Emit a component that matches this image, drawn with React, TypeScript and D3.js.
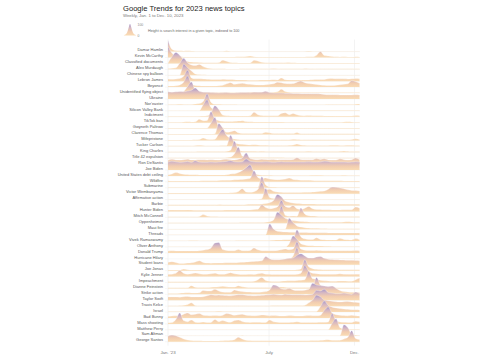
import React from 'react';
import * as d3 from 'd3';

const weekStarts: Date[] = d3.timeWeek.range(new Date(2023, 0, 1), new Date(2023, 11, 11));

const topicNames = [
  'Damar Hamlin', 'Kevin McCarthy', 'Classified documents', 'Alex Murdaugh', 'Chinese spy balloon',
  'Lebron James', 'Beyoncé', 'Unidentified flying object', 'Ukraine', "Nor'easter",
  'Silicon Valley Bank', 'Indictment', 'TikTok ban', 'Gwyneth Paltrow', 'Clarence Thomas',
  'Mifepristone', 'Tucker Carlson', 'King Charles', 'Title 42 expulsion', 'Ron DeSantis',
  'Joe Biden', 'United States debt ceiling', 'Wildfire', 'Submarine', 'Victor Wembanyama',
  'Affirmative action', 'Barbie', 'Hunter Biden', 'Mitch McConnell', 'Oppenheimer',
  'Maui fire', 'Threads', 'Vivek Ramaswamy', 'Oliver Anthony', 'Donald Trump',
  'Hurricane Hilary', 'Student loans', 'Joe Jonas', 'Kylie Jenner', 'Impeachment',
  'Dianne Feinstein', 'Strike action', 'Taylor Swift', 'Travis Kelce', 'Israel',
  'Bad Bunny', 'Mass shooting', 'Matthew Perry', 'Sam Altman', 'George Santos',
];

const damarHamlin = [100,22,10,7,6,7,5,4,4,4, 3,3,3,4,4,8,4,3,3,3, 3,3,3,3,3,3,3,3,3,3, 3,3,3,3,3,4,6,4,3,3, 3,3,3,3,3,3,3,3,3,3];
const kevinMcCarthy = [100,40,10,6,5,5,4,4,4,4, 4,4,4,4,4,4,5,5,6,7, 10,14,8,5,4,4,4,4,4,4, 4,4,4,4,4,5,6,6,20,55, 18,14,10,6,5,6,4,4,8,5];
const classifiedDocuments = [5,60,100,75,35,18,12,10,8,7, 6,6,6,8,30,20,8,6,5,5, 5,5,30,22,10,7,6,6,6,6, 7,9,6,5,5,5,5,5,4,4, 4,4,4,4,4,4,4,4,4,4];
const alexMurdaugh = [8,10,14,55,100,60,40,35,45,25, 12,8,6,5,5,4,4,4,4,5, 6,6,6,5,5,5,6,8,6,5, 5,5,5,5,5,8,6,6,5,5, 5,5,5,5,5,5,5,5,6,5];
const chineseSpyBalloon = [2,2,2,2,100,70,40,12,6,4, 3,2,2,2,2,2,2,2,2,2, 2,2,2,2,2,2,2,2,2,2, 2,2,2,2,2,2,2,2,2,2, 2,2,2,2,2,2,2,2,2,2];
const lebronJames = [20,18,20,25,45,100,30,22,22,20, 18,16,15,15,18,16,15,14,12,12, 10,8,8,9,10,10,12,14,12,30, 14,12,10,10,10,10,12,14,16,15, 16,22,25,22,22,22,20,22,25,22];
const beyonce = [10,10,12,20,45,100,30,15,12,10, 10,10,10,12,16,30,40,25,30,35, 28,25,22,20,20,22,25,30,45,40, 32,30,32,45,55,40,32,28,24,20, 16,14,15,18,22,25,30,60,50,35];
const ufo = [3,3,3,4,15,60,100,25,10,6, 5,4,4,4,4,4,4,5,5,5, 6,8,10,8,8,6,6,8,12,35, 14,8,6,6,6,5,6,5,5,5, 5,5,5,5,5,6,5,5,5,5];
const ukraine = [65,62,65,68,66,72,80,100,70,62, 60,58,56,55,56,58,55,55,56,58, 58,56,62,60,62,70,58,55,54,54, 52,52,50,50,48,48,48,47,47,46, 40,38,38,38,36,36,36,36,38,36];
const noreaster = [4,4,4,6,4,4,4,8,12,30, 100,25,6,5,4,3,3,3,2,2, 2,2,2,2,2,2,2,2,2,2, 2,2,2,2,2,2,2,2,2,2, 2,3,3,3,3,3,4,4,6,8];
const siliconValleyBank = [2,2,2,2,2,2,2,2,2,55, 100,30,14,10,8,7,6,6,5,5, 5,4,4,4,4,4,4,4,4,4, 4,4,4,4,4,4,4,4,4,4, 4,4,4,4,4,4,4,4,4,4];
const indictment = [4,4,4,4,4,4,4,4,5,6, 8,35,100,65,15,8,7,6,6,6, 6,8,40,18,10,8,8,8,8,30, 35,18,30,18,10,8,10,8,8,8, 7,7,7,6,6,6,6,6,10,8];
const tiktokBan = [3,4,4,4,6,8,6,8,30,18, 20,100,35,18,12,10,10,12,15,18, 10,8,6,5,5,5,5,5,5,5, 4,4,4,4,4,4,4,4,4,4, 4,4,4,4,4,6,8,6,4,4];
const gwynethPaltrow = [4,4,4,4,4,4,4,4,4,4, 5,50,100,18,8,6,6,5,5,5, 5,5,5,5,5,5,5,5,5,5, 5,5,5,5,5,5,5,5,5,5, 5,5,5,5,5,5,5,5,5,5];
const clarenceThomas = [4,4,4,4,4,4,4,4,4,4, 4,4,6,100,60,20,25,35,15,10, 10,8,10,10,10,20,15,8,8,10, 8,10,8,18,6,6,6,6,6,6, 6,6,6,6,6,6,6,6,6,6];
const mifepristone = [3,3,3,3,3,3,4,5,8,22, 10,8,10,60,100,45,20,12,8,6, 5,5,5,5,5,5,5,5,5,6, 6,7,10,8,6,5,5,5,5,5, 5,5,5,5,5,5,5,8,15,8];
const tuckerCarlson = [6,6,6,6,6,6,6,8,10,8, 6,6,6,6,8,8,100,35,22,18, 15,12,14,12,10,10,8,8,8,8, 8,10,12,22,12,10,8,8,8,8, 8,8,10,10,8,8,10,10,8,8];
const kingCharles = [5,5,5,5,5,5,5,5,6,6, 6,6,6,6,6,8,18,100,22,10, 8,8,8,7,8,7,7,7,7,7, 6,6,6,6,6,7,8,6,6,6, 6,6,6,6,8,12,8,6,6,6];
const title42 = [4,4,4,4,4,4,4,4,4,4, 4,4,4,4,4,6,10,40,100,20, 8,6,5,5,5,5,5,5,5,5, 4,4,4,4,4,4,4,4,4,4, 4,4,4,4,4,4,4,4,4,4];
const ronDeSantis = [35,45,38,36,40,45,38,38,40,40, 38,40,38,36,42,45,40,38,45,55, 100,50,42,40,45,42,40,42,38,40, 40,40,42,58,42,40,40,40,50,42, 48,38,36,36,48,40,36,40,55,40];
const joeBiden = [72,80,75,70,72,78,70,85,72,70, 70,72,70,72,75,78,85,75,72,75, 100,80,75,72,72,74,72,70,72,75, 72,72,72,72,72,72,74,72,72,74, 80,78,72,72,72,72,70,72,75,72];
const debtCeiling = [10,18,30,22,15,12,10,10,8,8, 8,8,8,8,8,10,18,20,30,50, 75,100,35,10,6,5,5,4,4,4, 4,4,4,4,4,4,4,5,6,5, 4,4,4,4,4,5,4,4,4,4];
const wildfire = [10,8,8,8,8,8,8,8,8,10, 10,10,10,12,14,15,15,18,20,22, 25,30,100,40,28,35,25,22,20,22, 25,35,22,18,15,14,14,12,10,10, 10,10,10,10,10,8,8,8,8,8];
const submarine = [4,4,4,4,4,4,4,4,4,4, 4,4,4,4,4,4,4,4,4,4, 4,4,4,4,100,25,8,6,5,5, 5,5,5,5,5,5,5,5,5,5, 5,5,5,5,5,5,5,5,5,5];
const wembanyama = [6,6,6,6,6,6,6,6,6,6, 6,6,6,6,6,6,8,10,20,45, 15,12,18,40,100,35,40,22,15,12, 10,10,10,10,10,12,12,15,18,22, 25,40,60,58,52,45,35,30,28,25];
const affirmativeAction = [3,3,3,3,3,3,3,3,4,4, 3,3,3,3,3,3,3,3,3,3, 3,3,3,4,8,100,20,10,8,6, 6,5,5,5,5,5,5,5,4,4, 4,4,4,4,4,4,4,4,4,4];
const barbie = [6,6,6,6,6,6,6,6,6,6, 6,6,6,10,8,8,8,8,8,8, 10,12,12,12,14,18,25,45,100,80, 40,30,22,18,16,14,14,13,12,12, 12,12,12,12,12,12,12,12,12,12];
const hunterBiden = [12,14,12,12,12,14,12,10,10,10, 10,10,10,10,10,12,12,12,12,12, 12,14,18,20,60,35,25,30,40,100, 45,35,55,25,18,30,45,25,18,18, 15,15,14,14,14,15,15,15,40,30];
const mitchMcConnell = [5,5,5,5,5,5,6,6,8,25, 12,8,8,6,6,6,6,6,6,6, 6,6,6,6,6,6,6,6,8,100, 20,10,12,10,85,30,15,12,10,8, 8,8,8,8,8,8,8,8,8,8];
const oppenheimer = [4,4,4,4,4,4,4,4,4,4, 4,4,4,4,4,4,5,5,5,6, 6,6,6,8,8,10,15,30,100,75, 45,32,25,20,16,14,12,10,10,10, 10,10,10,10,10,12,14,12,10,10];
const mauiFire = [2,2,2,2,2,2,2,2,2,2, 2,2,2,2,2,2,2,2,2,2, 2,2,2,2,2,2,2,2,2,2, 2,100,60,30,20,14,10,8,8,7, 6,5,5,5,5,5,5,5,5,5];
const threads = [3,3,3,3,3,3,3,3,3,3, 3,3,3,3,3,3,3,3,3,3, 3,3,3,3,3,3,100,55,35,30, 28,26,25,24,24,23,22,22,22,21, 21,20,20,20,20,20,20,20,20,20];
const vivekRamaswamy = [2,2,2,2,2,3,4,4,3,3, 3,3,3,3,3,3,3,3,4,4, 4,5,5,5,5,5,6,8,10,10, 12,12,18,100,40,20,15,14,30,15, 12,10,10,10,25,15,12,10,22,12];
const oliverAnthony = [1,1,1,1,1,1,1,1,1,1, 1,1,1,1,1,1,1,1,1,1, 1,1,1,1,1,1,1,1,1,1, 1,30,100,70,30,18,12,10,8,8, 6,6,5,5,5,5,5,5,4,4];
const donaldTrump = [18,20,18,18,18,18,18,18,20,25, 30,45,90,95,30,22,20,20,30,20, 20,22,45,28,20,20,20,20,22,28, 35,28,35,100,35,25,22,22,25,22, 20,20,20,20,20,20,20,20,22,20];
const hurricaneHilary = [1,1,1,1,1,1,1,1,1,1, 1,1,1,1,1,1,1,1,1,1, 1,1,1,1,1,1,1,1,1,1, 1,1,25,100,10,3,2,2,2,2, 2,2,2,2,2,2,2,2,2,2];
const studentLoans = [22,28,20,12,12,15,18,25,35,20, 15,14,15,16,16,18,18,18,20,22, 25,28,30,32,35,75,55,45,45,48, 52,58,62,85,100,80,62,60,70,75, 58,50,48,45,44,42,40,40,38,36];
const joeJonas = [5,5,5,5,15,8,5,5,5,5, 5,5,5,5,5,5,5,6,6,6, 6,6,6,6,6,6,6,6,6,6, 6,6,6,8,15,100,35,18,12,10, 8,8,8,7,7,7,7,7,7,7];
const kylieJenner = [20,22,30,55,30,22,25,32,25,20, 22,25,30,22,20,25,35,25,20,18, 18,20,18,25,30,22,20,18,18,18, 18,18,18,20,30,100,50,30,25,22, 20,20,20,22,25,22,20,20,22,22];
const impeachment = [8,6,6,6,6,6,6,6,6,6, 6,6,6,6,6,6,6,6,8,10, 10,10,12,25,45,18,12,10,10,12, 14,15,15,18,20,25,100,35,30,20, 15,14,12,12,14,14,12,12,25,40];
const dianneFeinstein = [5,5,5,5,5,6,25,10,8,8, 8,10,12,14,20,14,12,12,25,15, 10,8,8,8,8,8,8,10,15,12, 10,8,8,8,8,8,8,12,100,30, 10,8,6,6,6,6,6,6,6,5];
const strikeAction = [8,8,8,10,12,14,12,12,14,35, 30,30,45,30,20,18,18,40,30,25, 22,20,18,18,20,25,40,85,75,50, 45,55,40,35,35,38,45,100,85,80, 75,70,75,55,35,25,20,18,18,16];
const taylorSwift = [30,30,30,28,32,35,30,30,30,32, 40,50,45,48,45,42,40,45,50,50, 45,42,40,42,45,48,50,55,50,48, 55,52,50,50,50,48,50,55,90,85, 100,70,65,60,60,65,60,55,75,60];
const travisKelce = [3,3,3,5,8,15,30,6,4,3, 3,3,3,3,3,3,3,3,3,3, 3,3,3,3,3,4,4,5,5,5, 5,5,5,5,5,8,30,55,100,85, 55,50,45,40,38,40,42,38,35,32];
const israel = [6,6,6,6,6,6,6,6,6,6, 6,6,6,8,6,6,6,6,6,6, 6,6,6,6,6,6,6,6,6,6, 6,6,6,6,6,6,6,6,6,50, 100,60,45,38,32,28,25,22,22,20];
const badBunny = [15,18,20,22,35,45,30,35,40,25, 22,20,22,20,25,40,35,25,30,35, 25,22,20,22,28,25,20,22,20,18, 18,22,20,18,18,20,22,20,20,25, 70,100,45,30,25,22,20,25,20,18];
const massShooting = [10,12,40,100,30,20,35,15,12,18, 12,14,40,20,30,20,15,30,35,22, 15,14,15,15,14,14,35,20,16,14, 14,14,15,20,14,14,14,14,14,16, 15,18,95,30,18,15,14,14,25,20];
const matthewPerry = [3,3,3,3,3,3,3,3,3,3, 3,3,3,3,3,3,3,3,3,3, 3,3,3,3,3,3,3,3,3,3, 3,3,3,3,3,3,3,3,3,3, 3,3,60,100,20,10,8,6,6,5];
const samAltman = [2,2,2,2,2,2,2,2,2,2, 2,2,2,2,2,3,3,3,2,5, 2,2,2,2,2,2,2,2,2,2, 2,2,2,2,2,2,2,2,2,2, 2,2,2,2,2,100,75,15,6,4];
const georgeSantos = [50,60,55,40,25,15,10,8,8,7, 7,7,7,7,8,10,12,18,40,25, 12,10,8,8,8,8,8,8,8,8, 8,8,8,8,8,8,8,10,10,12, 15,18,12,12,14,25,40,100,30,20];

const topicValues = [
  damarHamlin, kevinMcCarthy, classifiedDocuments, alexMurdaugh, chineseSpyBalloon,
  lebronJames, beyonce, ufo, ukraine, noreaster,
  siliconValleyBank, indictment, tiktokBan, gwynethPaltrow, clarenceThomas,
  mifepristone, tuckerCarlson, kingCharles, title42, ronDeSantis,
  joeBiden, debtCeiling, wildfire, submarine, wembanyama,
  affirmativeAction, barbie, hunterBiden, mitchMcConnell, oppenheimer,
  mauiFire, threads, vivekRamaswamy, oliverAnthony, donaldTrump,
  hurricaneHilary, studentLoans, joeJonas, kylieJenner, impeachment,
  dianneFeinstein, strikeAction, taylorSwift, travisKelce, israel,
  badBunny, massShooting, matthewPerry, samAltman, georgeSantos,
];

const tickDates = [new Date(2023, 0, 1), new Date(2023, 6, 1), new Date(2023, 11, 1)];
const tickLabels = ["Jan. '23", 'July', 'Dec.'];
const legendValues = [0, 3, 8, 18, 40, 75, 100, 75, 40, 18, 8, 3, 0];

const FONT = "'Liberation Sans', Arial, Helvetica, sans-serif";
const STOPS: [number, string][] = [
  [0, '#fadcb4'],
  [0.35, '#f2cdb0'],
  [0.7, '#d3b6c4'],
  [1, '#a797c8'],
];

export default function App() {
  const W = 485;
  const H = 360;
  const x = d3.scaleTime()
    .domain([new Date(2023, 0, 1), new Date(2023, 11, 10)])
    .range([168, 359.5]);
  const rowY = d3.scaleLinear().domain([0, topicNames.length - 1]).range([51.6, 51.6 + 49 * 5.92]);
  const ridgeH = 11;

  const makeArea = (base: number) =>
    d3.area<number>()
      .x((_, i) => x(weekStarts[i]))
      .y0(base)
      .y1((d) => base - (d / 100) * ridgeH)
      .curve(d3.curveMonotoneX);
  const makeLine = (base: number) =>
    d3.line<number>()
      .x((_, i) => x(weekStarts[i]))
      .y((d) => base - (d / 100) * ridgeH)
      .curve(d3.curveMonotoneX);

  const lgX = d3.scaleLinear().domain([0, legendValues.length - 1]).range([123, 137]);
  const lgBase = 35.5;
  const lgArea = d3.area<number>()
    .x((_, i) => lgX(i))
    .y0(lgBase)
    .y1((d) => lgBase - (d / 100) * 11.5)
    .curve(d3.curveMonotoneX);

  const top = rowY(0) - 12;
  const bottom = rowY(topicNames.length - 1) + 2;

  return (
    <svg width={W} height={H} style={{ position: 'absolute', left: 0, top: 0, background: '#fff' }}
      fontFamily={FONT}>
      <defs>
        <linearGradient id="lg" gradientUnits="userSpaceOnUse" x1={0} x2={0} y1={lgBase} y2={lgBase - 11.5}>
          {STOPS.map(([o, c]) => <stop key={o} offset={o} stopColor={c} />)}
        </linearGradient>
        {topicNames.map((_, i) => {
          const b = rowY(i);
          return (
            <linearGradient key={i} id={`rg${i}`} gradientUnits="userSpaceOnUse" x1={0} x2={0} y1={b} y2={b - ridgeH}>
              {STOPS.map(([o, c]) => <stop key={o} offset={o} stopColor={c} />)}
            </linearGradient>
          );
        })}
      </defs>

      <text x={123} y={10.5} fontSize={7.6} fill="#222" fontWeight={500}>Google Trends for 2023 news topics</text>
      <text x={123} y={17.3} fontSize={4.3} fill="#777">Weekly, Jan. 1 to Dec. 10, 2023</text>

      <path d={lgArea(legendValues) || ''} fill="url(#lg)" />
      <text x={137.5} y={26} fontSize={3.4} fill="#888">100</text>
      <text x={137.5} y={37.3} fontSize={3.4} fill="#888">0</text>
      <text x={148} y={31.6} fontSize={3.7} fill="#666">Height is search interest in a given topic, indexed to 100</text>

      {tickDates.map((d, i) => (
        <line key={`v${i}`} x1={x(d)} x2={x(d)} y1={top} y2={bottom + 2} stroke="#e6e6e6" strokeWidth={0.5} />
      ))}

      {topicNames.map((name, i) => {
        const b = rowY(i);
        const vals = topicValues[i];
        return (
          <g key={name}>
            <line x1={165} x2={360} y1={b} y2={b} stroke="#efefef" strokeWidth={0.5} />
            <path d={makeArea(b)(vals) || ''} fill={`url(#rg${i})`} />
            <path d={makeLine(b)(vals) || ''} fill="none" stroke="#fff" strokeWidth={0.4} strokeOpacity={0.8} />
            <text x={163} y={b - 0.3} fontSize={4} fill="#555" textAnchor="end">{name}</text>
          </g>
        );
      })}

      {tickDates.map((d, i) => (
        <text key={`t${i}`} x={x(d)} y={354} fontSize={4.4} fill="#777" textAnchor="middle">{tickLabels[i]}</text>
      ))}
    </svg>
  );
}
